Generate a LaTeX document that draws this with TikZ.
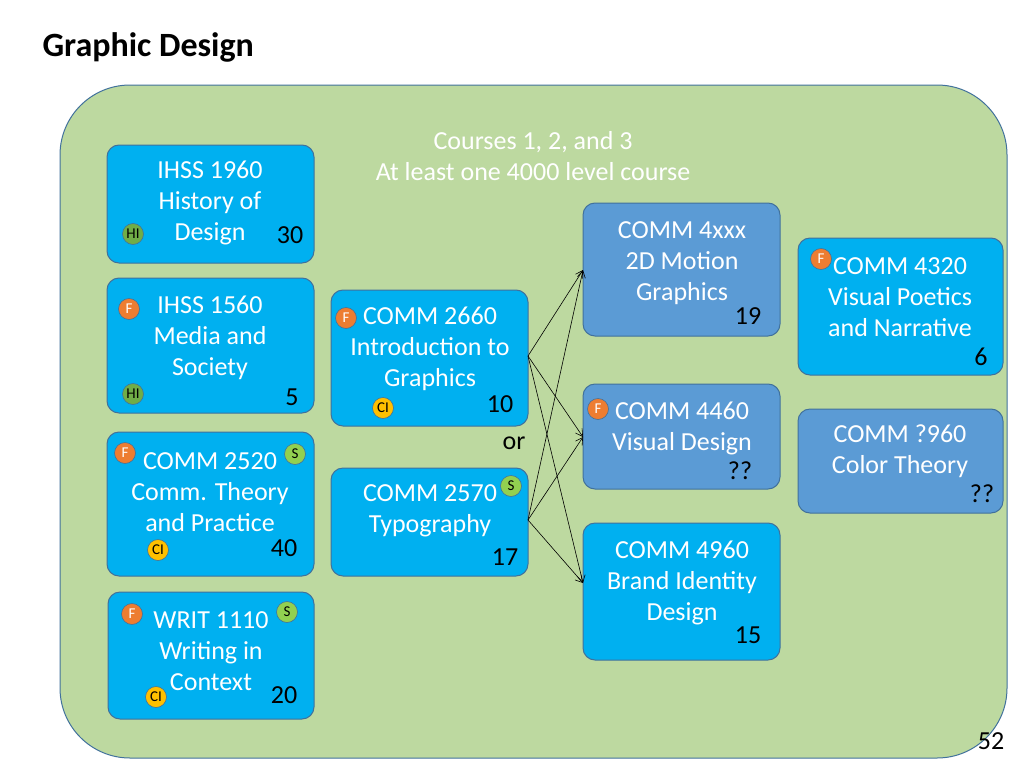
\documentclass[tikz,border=0pt]{standalone}
\usepackage{fontspec}
\setmainfont{Carlito}
\usetikzlibrary{arrows.meta}
\definecolor{cyanb}{HTML}{00B0F0}
\definecolor{midb}{HTML}{5B9BD5}
\definecolor{edge}{HTML}{41719C}
\definecolor{bg}{HTML}{BDD9A0}
\definecolor{forange}{HTML}{ED7D31}
\definecolor{higreen}{HTML}{70AD47}
\definecolor{sgreen}{HTML}{92D050}
\definecolor{ciyel}{HTML}{FFC000}
\begin{document}
\begin{tikzpicture}[x=1pt,y=-1pt,
  box/.style={draw=edge,line width=1pt,rounded corners=12pt},
  txt/.style={text=white,align=center,font=\fontsize{26}{31}\selectfont},
  num/.style={font=\fontsize{26}{28}\selectfont},
  badge/.style={circle,draw=edge,line width=0.6pt,minimum size=21pt,inner sep=0pt,font=\fontsize{15}{15}\selectfont},
  F/.style={badge,fill=forange,text=white},
  HI/.style={badge,fill=higreen},
  S/.style={badge,fill=sgreen},
  CI/.style={badge,fill=ciyel},
  arr/.style={-{Straight Barb[length=7pt,width=8pt]},line width=0.6pt}]
\useasboundingbox (0,0) rectangle (1024,768);
\node[anchor=west,font=\bfseries\fontsize{34}{38}\selectfont] (title) at (39,47) {Graphic Design};
\draw[draw=edge,line width=1pt,fill=bg,rounded corners=70pt] (60,85) rectangle (1007,758);
\node[txt] (hdr) at (533,156) {Courses 1, 2, and 3\\At least one 4000 level course};
% left column
\draw[box,fill=cyanb] (107,145) rectangle (314,263);
\node[txt] (ihss1960) at (210,203) {IHSS 1960\\History of\\Design};
\node[num] (n30) at (290,235) {30};
\node[HI] (hi1) at (133,234) {HI};
\draw[box,fill=cyanb] (107,278) rectangle (314,413);
\node[txt] (ihss1560) at (210,338) {IHSS 1560\\Media and\\Society};
\node[num] (n5) at (292,397) {5};
\node[F] (f1) at (129,309) {F};
\node[HI] (hi2) at (133,394) {HI};
\draw[box,fill=cyanb] (107,432) rectangle (314,576);
\node[txt] (c2520) at (210,492) {COMM 2520\\Comm. Theory\\and Practice};
\node[num] (n40) at (284,548) {40};
\node[F] (f2) at (125,453) {F};
\node[S] (s1) at (295,454) {S};
\node[CI] (ci1) at (158,550) {CI};
\draw[box,fill=cyanb] (108,592) rectangle (314,719);
\node[txt] (w1110) at (211,651) {WRIT 1110\\Writing in\\Context};
\node[num] (n20) at (284,695) {20};
\node[F] (f3) at (132,614) {F};
\node[S] (s2) at (287,612) {S};
\node[CI] (ci2) at (156,697) {CI};
% middle
\draw[box,fill=cyanb] (331,290) rectangle (528,426);
\node[txt] (c2660) at (430,349) {COMM 2660\\Introduction to\\Graphics};
\node[num] (n10) at (500,404) {10};
\node[F] (f4) at (346,318) {F};
\node[CI] (ci3) at (383,408) {CI};
\node[num] (or) at (514,443) {or};
\draw[box,fill=cyanb] (331,468) rectangle (528,576);
\node[txt] (c2570) at (430,511) {COMM 2570\\Typography};
\node[num] (n17) at (505,557) {17};
\node[S] (s3) at (511,486) {S};
% right middle
\draw[box,fill=midb] (583,203) rectangle (780,336);
\node[txt] (c4xxx) at (682,263) {COMM 4xxx\\2D Motion\\Graphics};
\node[num] (n19) at (748,316) {19};
\draw[box,fill=midb] (583,384) rectangle (780,489);
\node[txt] (c4460) at (682,428) {COMM 4460\\Visual Design};
\node[num] (q1) at (740,471) {??};
\node[F] (f5) at (598,409) {F};
\draw[box,fill=cyanb] (583,523) rectangle (780,660);
\node[txt] (c4960) at (682,583) {COMM 4960\\Brand Identity\\Design};
\node[num] (n15) at (748,635) {15};
% far right
\draw[box,fill=cyanb] (798,238) rectangle (1003,375);
\node[txt] (c4320) at (900,297) {COMM 4320\\Visual Poetics\\and Narrative};
\node[num] (n6) at (981,357) {6};
\node[F] (f6) at (821,259) {F};
\draw[box,fill=midb] (798,409) rectangle (1003,513);
\node[txt] (c960) at (900,451) {COMM ?960\\Color Theory};
\node[num] (q2) at (982,494) {??};
\node[num] (pg) at (991,741) {52};
% arrows
\coordinate (a1) at (528,356); \coordinate (a2) at (528,520);
\coordinate (t1) at (583,270); \coordinate (t2) at (583,437); \coordinate (t3) at (583,583);
\foreach \s in {a1,a2} \foreach \t in {t1,t2,t3} \draw[arr] (\s) -- (\t);
\end{tikzpicture}
\end{document}
